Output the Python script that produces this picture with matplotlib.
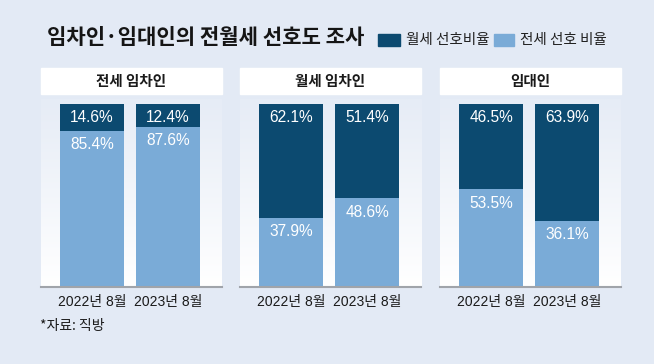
import numpy as np
import matplotlib
matplotlib.use("Agg")
import matplotlib.pyplot as plt
from matplotlib.patches import Rectangle
from matplotlib.colors import LinearSegmentedColormap

plt.rcParams['font.family'] = ['Noto Sans CJK KR', 'DejaVu Sans']

# data
groups = ['전세 임차인', '월세 임차인', '임대인']
periods = ['2022년 8월', '2023년 8월']
wolse = [[14.6, 12.4], [62.1, 51.4], [46.5, 63.9]]    # 월세 선호비율 (%)
jeonse = [[85.4, 87.6], [37.9, 48.6], [53.5, 36.1]]   # 전세 선호 비율 (%)

BG = "#e3eaf5"
DARK = "#0c4a70"
LIGHT = "#7aabd7"
NUM = ['Liberation Sans', 'Noto Sans CJK KR']

W, H = 654, 364
fig = plt.figure(figsize=(W / 100, H / 100), dpi=100, facecolor=BG)


def box(x0, y0, x1, y1):
    """pixel box (top-left origin) -> figure rect"""
    return [x0 / W, 1 - y1 / H, (x1 - x0) / W, (y1 - y0) / H]


fig.text(47 / W, 1 - 38 / H, "임차인·임대인의 전월세 선호도 조사", fontsize=15.2,
         fontweight="bold", color="#151515", va="center", ha="left")

# legend
for x0, x1, tx, col, lab in [(378, 400, 406, DARK, "월세 선호비율"),
                             (494, 514, 520, LIGHT, "전세 선호 비율")]:
    fig.patches.append(Rectangle((x0 / W, 1 - 46 / H), (x1 - x0) / W, 12 / H,
                                 transform=fig.transFigure, color=col))
    fig.text(tx / W, 1 - 40 / H, lab, fontsize=10.5, color="#222",
             va="center", ha="left")

grad = LinearSegmentedColormap.from_list("g", ["#e6ecf6", "#ffffff"])
lefts = [41, 240, 440]
pw = 181
step, off, bw = 76.0, 51.0, 64.0

for i, g in enumerate(groups):
    x0 = lefts[i]
    # header
    fig.patches.append(Rectangle((x0 / W, 1 - 94 / H), pw / W, 26 / H,
                                 transform=fig.transFigure, color="white"))
    fig.text((x0 + pw / 2) / W, 1 - 81 / H, g, fontsize=10.5, fontweight="bold",
             color="#1a1a1a", ha="center", va="center")

    # panel body gradient
    bga = fig.add_axes(box(x0, 99, x0 + pw, 287), zorder=0)
    bga.imshow(np.linspace(0, 1, 100).reshape(-1, 1), aspect="auto", cmap=grad,
               extent=[0, 1, 0, 1])
    bga.axis("off")

    ax = fig.add_axes(box(x0, 104, x0 + pw, 287), zorder=1)
    ax.patch.set_alpha(0)
    x = np.arange(len(periods))
    j = np.array(jeonse[i])
    w = np.array(wolse[i])
    ax.bar(x, j, width=bw / step, color=LIGHT)
    ax.bar(x, w, bottom=j, width=bw / step, color=DARK)
    ax.set_xlim(-off / step, (pw - off) / step)
    ax.set_ylim(0, 100)
    dy = 14 / 183 * 100
    for xi, jv, wv in zip(x, j, w):
        ax.text(xi, 100 - dy, f"{wv:.1f}%", color="white", fontsize=11.2,
                family=NUM, ha="center", va="center")
        ax.text(xi, jv - dy, f"{jv:.1f}%", color="white", fontsize=11.2,
                family=NUM, ha="center", va="center")
    ax.axhline(0, color="#a0a4aa", lw=1.5, clip_on=False)
    ax.set_xticks(x)
    ax.set_xticklabels(periods, family=NUM, fontsize=10, color="#1a1a1a")
    ax.tick_params(axis="x", length=0, pad=6)
    ax.set_yticks([])
    for s in ax.spines.values():
        s.set_visible(False)

fig.text(40 / W, 1 - 326 / H, "*자료: 직방", fontsize=10, color="#1a1a1a",
         va="center", ha="left")

fig.savefig("out.png", dpi=100, facecolor=BG)
